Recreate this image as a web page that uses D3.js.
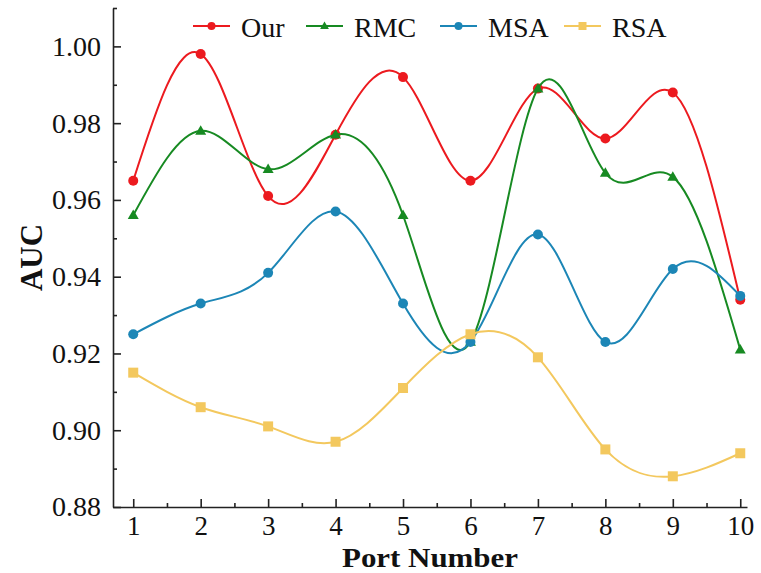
<!DOCTYPE html>
<html>
<head>
<meta charset="utf-8">
<script src="https://cdn.jsdelivr.net/npm/d3@7"></script>
<style>
  html, body { margin: 0; padding: 0; background: #fff; }
  svg { display: block; }
  text { font-family: "Liberation Serif", "Times New Roman", serif; fill: #111; }
</style>
</head>
<body>
<svg id="chart" width="761" height="573"></svg>
<script>
// ---- data ----
const ports = [1, 2, 3, 4, 5, 6, 7, 8, 9, 10];
const seriesNames = ["Our", "RMC", "MSA", "RSA"];
const ourValues = [0.965, 0.998, 0.961, 0.977, 0.992, 0.965, 0.989, 0.976, 0.988, 0.934];
const rmcValues = [0.956, 0.978, 0.968, 0.977, 0.956, 0.923, 0.989, 0.967, 0.966, 0.921];
const msaValues = [0.925, 0.933, 0.941, 0.957, 0.933, 0.923, 0.951, 0.923, 0.942, 0.935];
const rsaValues = [0.915, 0.906, 0.901, 0.897, 0.911, 0.925, 0.919, 0.895, 0.888, 0.894];
const yTickValues = [0.88, 0.90, 0.92, 0.94, 0.96, 0.98, 1.00];
const yMinorTickValues = [0.89, 0.91, 0.93, 0.95, 0.97, 0.99, 1.01];
const xMinorTickValues = [1.5, 2.5, 3.5, 4.5, 5.5, 6.5, 7.5, 8.5, 9.5];

const series = [
  { name: seriesNames[0], values: ourValues, color: "#ec1a1f", marker: "circle" },
  { name: seriesNames[1], values: rmcValues, color: "#178a22", marker: "triangle" },
  { name: seriesNames[2], values: msaValues, color: "#1c86b6", marker: "circle" },
  { name: seriesNames[3], values: rsaValues, color: "#f3c85e", marker: "square" }
];

// ---- layout ----
const svg = d3.select("#chart");
const pLeft = 113, pRight = 747, pTop = 8, pBottom = 507;

const x = d3.scaleLinear().domain([0.7, 10.1]).range([pLeft, pRight]);
const y = d3.scaleLinear().domain([0.88, 1.01]).range([pBottom, pTop]);

const axisColor = "#222";

// axes
const xAxis = svg.append("g").attr("transform", `translate(0,${pBottom})`)
  .call(d3.axisBottom(x).tickValues(ports).tickSize(-8).tickSizeOuter(0).tickPadding(10).tickFormat(d3.format("d")));
svg.append("g").attr("transform", `translate(0,${pBottom})`)
  .call(d3.axisBottom(x).tickValues(xMinorTickValues).tickSize(-4).tickSizeOuter(0).tickFormat(""))
  .select(".domain").remove();

const yAxis = svg.append("g").attr("transform", `translate(${pLeft},0)`)
  .call(d3.axisLeft(y).tickValues(yTickValues).tickSize(-8).tickSizeOuter(0).tickPadding(12).tickFormat(d3.format(".2f")));
svg.append("g").attr("transform", `translate(${pLeft},0)`)
  .call(d3.axisLeft(y).tickValues(yMinorTickValues).tickSize(-4).tickSizeOuter(0).tickFormat(""))
  .select(".domain").remove();

svg.selectAll(".domain, .tick line").attr("stroke", axisColor).attr("stroke-width", 1.6);
svg.selectAll(".tick text")
  .attr("font-family", '"Liberation Serif", "Times New Roman", serif')
  .attr("font-size", 28).attr("fill", "#111");
xAxis.selectAll(".tick text").attr("font-size", 27).attr("dy", "0.68em");

// axis titles
svg.append("text")
  .attr("x", (pLeft + pRight) / 2).attr("y", 567)
  .attr("text-anchor", "middle")
  .attr("font-weight", "bold").attr("font-size", 28)
  .attr("textLength", 176).attr("lengthAdjust", "spacingAndGlyphs")
  .text("Port Number");
svg.append("text")
  .attr("transform", `translate(42,${(pTop + pBottom) / 2}) rotate(-90)`)
  .attr("text-anchor", "middle")
  .attr("font-weight", "bold").attr("font-size", 31)
  .text("AUC");

// markers
function drawMarker(g, type, cx, cy, color, s) {
  if (type === "circle") {
    g.append("circle").attr("cx", cx).attr("cy", cy).attr("r", s).attr("fill", color);
  } else if (type === "triangle") {
    const h = s * 1.9;
    g.append("path")
      .attr("d", `M${cx},${cy - h * 0.6} L${cx + s * 1.1},${cy + h * 0.4} L${cx - s * 1.1},${cy + h * 0.4} Z`)
      .attr("fill", color);
  } else {
    g.append("rect").attr("x", cx - s).attr("y", cy - s).attr("width", 2 * s).attr("height", 2 * s).attr("fill", color);
  }
}

const line = d3.line().x((d, i) => x(ports[i])).y(d => y(d)).curve(d3.curveNatural);

series.forEach(s => {
  const g = svg.append("g");
  g.append("path").attr("d", line(s.values))
    .attr("fill", "none").attr("stroke", s.color).attr("stroke-width", 2);
  s.values.forEach((v, i) => drawMarker(g, s.marker, x(ports[i]), y(v), s.color, 5));
});

// legend
const legendStarts = [193, 306, 440, 564];
const legendY = 26;
series.forEach((s, i) => {
  const g = svg.append("g");
  const x0 = legendStarts[i];
  g.append("line").attr("x1", x0).attr("x2", x0 + 37).attr("y1", legendY).attr("y2", legendY)
    .attr("stroke", s.color).attr("stroke-width", 2);
  drawMarker(g, s.marker, x0 + 18.5, legendY, s.color, 4);
  g.append("text").attr("x", x0 + 48).attr("y", legendY).attr("dy", "0.38em")
    .attr("font-size", 28).text(s.name);
});
</script>
</body>
</html>
